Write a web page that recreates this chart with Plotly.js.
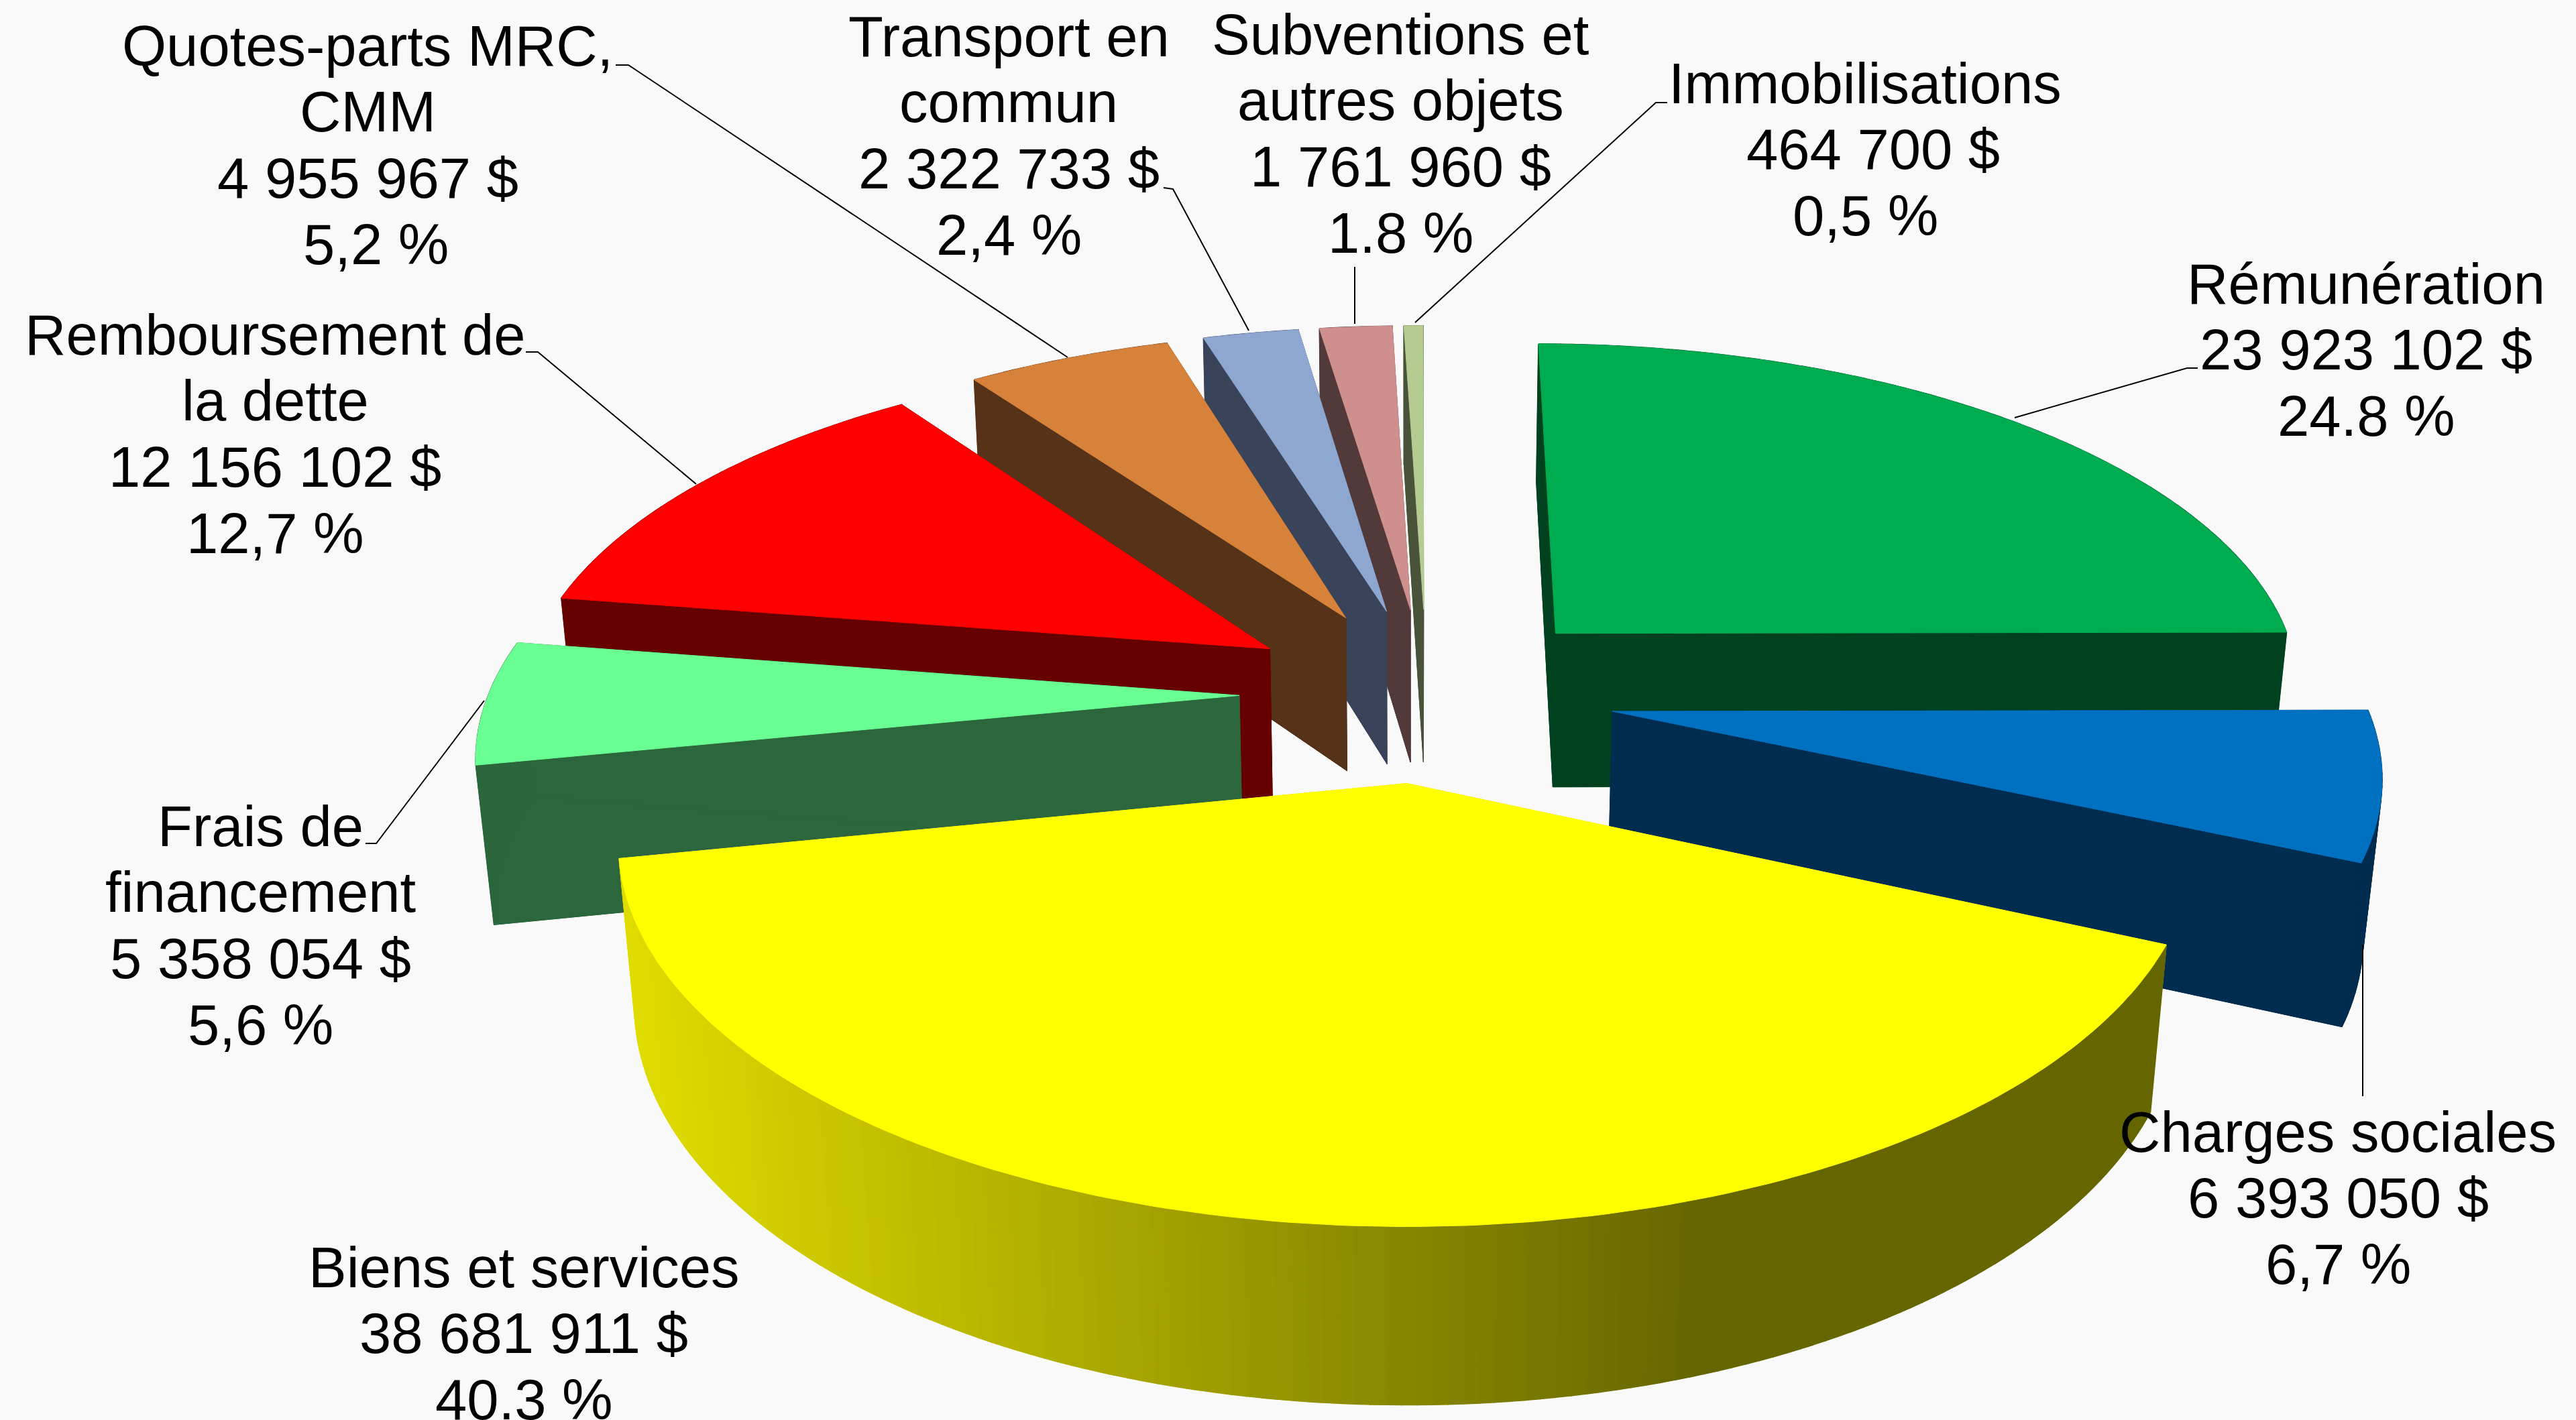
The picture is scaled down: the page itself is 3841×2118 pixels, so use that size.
<!DOCTYPE html>
<html>
<head>
<meta charset="utf-8">
<script src="https://cdn.plot.ly/plotly-3.0.1.min.js"></script>
<style>html,body{margin:0;padding:0;background:#f9f9f9}</style>
</head>
<body>
<div id="chart" style="width:3841px;height:2118px"></div>
<script>
// ---- data ----
const categoryLines = [
  ["Rémunération"],
  ["Charges sociales"],
  ["Biens et services"],
  ["Frais de", "financement"],
  ["Remboursement de", "la dette"],
  ["Quotes-parts MRC,", "CMM"],
  ["Transport en", "commun"],
  ["Subventions et", "autres objets"],
  ["Immobilisations"]
];
const amounts = [23923102, 6393050, 38681911, 5358054, 12156102, 4955967, 2322733, 1761960, 464700];
const amountLabels = ["23 923 102 $", "6 393 050 $", "38 681 911 $", "5 358 054 $", "12 156 102 $", "4 955 967 $", "2 322 733 $", "1 761 960 $", "464 700 $"];
const percentLabels = ["24.8 %", "6,7 %", "40.3 %", "5,6 %", "12,7 %", "5,2 %", "2,4 %", "1.8 %", "0,5 %"];

// ---- styling ----
const topColors  = ["#00AC50", "#0070C0", "#FFFF00", "#6AFF92", "#FF0000", "#D7823B", "#8EA7D0", "#CE8F8E", "#B4CC92"];
const sideColors = ["#00421F", "#002C4F", "#E0DC00", "#2C663C", "#660000", "#563218", "#39435A", "#533A3A", "#49533A"];
const drawOrder = [8, 7, 6, 5, 4, 3, 0, 1, 2];
const labelCenterX = [3528, 3486, 781, 388, 410, 548, 1504, 2088, 2781];
const labelFirstY  = [423, 1688, 1890, 1232, 499, 68, 54, 51, 124];
// small horizontal nudges of the amount and percent lines, as in the picture
const amountNudge  = [0, 0, 0, 0, 0, 0, 0, 0, 12];
const percentNudge = [0, 0, 0, 0, 0, 12, 0, 0, 0];
const lineStep = 98.8;
const fontSize = 85;
const leaders = [
  [[3277,549],[3261,549],[3004,623]],
  [[3523,1409],[3523,1635]],
  [],
  [[545,1258],[561,1258],[722,1045]],
  [[784,525],[802,525],[1038,722]],
  [[918,97],[937,97],[1592,533]],
  [[1735,280],[1749,282],[1862,493]],
  [[2020,398],[2020,483]],
  [[2486,153],[2469,153],[2110,481]]
];

// ---- perspective pie geometry ----
const VX = 2100, HY = -2500, NY = 13300, MU = 1.0867;
const U0 = 0.0076, W0 = 2.8325e-4, RU = 0.317, RW = 4.17e-5, EXPLODE = 0.25;
const START = 0.002, SHIFT_X = 1, SHIFT_Y = 4;
const total = amounts.reduce((a, b) => a + b, 0);

function topPoint(a, rho, mid) {
  const u = U0 + (rho * Math.sin(a) + EXPLODE * Math.sin(mid)) * RU;
  const w = W0 + (rho * Math.cos(a) + EXPLODE * Math.cos(mid)) * RW;
  const Y = 1 / w;
  return [VX + u * Y, HY + Y];
}
function lowPoint(p) {
  const Y = p[1] - HY, B = NY - p[1];
  const yb = (MU * Y * NY + HY * B) / (B + MU * Y);
  const xb = VX + (p[0] - VX) * (NY - yb) / B;
  return [xb, yb];
}
function poly(points, color, width) {
  const xs = points.map(p => p[0] + SHIFT_X), ys = points.map(p => p[1] + SHIFT_Y);
  xs.push(xs[0]); ys.push(ys[0]);
  return { type: "scatter", mode: "lines", x: xs, y: ys, fill: "toself", fillcolor: color,
           line: { color: color, width: width === undefined ? 1 : width }, hoverinfo: "skip", showlegend: false };
}
function yellowAt(x) {
  const f = Math.max(0, Math.min(1, (x - 930) / 1600));
  return "rgb(" + Math.round(224 - 122 * f) + "," + Math.round(220 - 118 * f) + ",0)";
}

let acc = 0;
const spans = amounts.map(v => {
  const s = START + acc / total * 2 * Math.PI; acc += v;
  return [s, START + acc / total * 2 * Math.PI];
});

const traces = [];
drawOrder.forEach(i => {
  const a0 = spans[i][0], a1 = spans[i][1], mid = (a0 + a1) / 2 - START;
  const n = Math.max(3, Math.ceil((a1 - a0) / (Math.PI / 180)));
  const rim = [];
  for (let k = 0; k <= n; k++) rim.push(topPoint(a0 + (a1 - a0) * k / n, 1, mid));
  const low = rim.map(lowPoint);
  const apex = topPoint(0, 0, mid), apexLow = lowPoint(apex);
  // cut faces and floor
  traces.push(poly([apex, rim[0], low[0], apexLow], sideColors[i]));
  traces.push(poly([apex, rim[n], low[n], apexLow], sideColors[i]));
  traces.push(poly([apexLow].concat(low), sideColors[i]));
  // outer wall, one small quad per step so that the silhouette stays filled
  for (let k = 0; k < n; k++) {
    const col = i === 2 ? yellowAt((rim[k][0] + rim[k + 1][0]) / 2) : sideColors[i];
    traces.push(poly([rim[k], rim[k + 1], low[k + 1], low[k]], col, 1.5));
  }
  // top face
  traces.push(poly([apex].concat(rim), topColors[i]));
});

// leader lines
leaders.forEach(seg => {
  if (!seg.length) return;
  traces.push({ type: "scatter", mode: "lines", x: seg.map(p => p[0]), y: seg.map(p => p[1]),
    line: { color: "#000000", width: 2 }, hoverinfo: "skip", showlegend: false });
});

// labels, one annotation per line to keep the exact line spacing
const annotations = [];
categoryLines.forEach((lines, i) => {
  const rows = lines.map(t => [t, 0]).concat([[amountLabels[i], amountNudge[i]], [percentLabels[i], percentNudge[i]]]);
  rows.forEach((row, j) => {
    annotations.push({ xref: "x", yref: "y", x: labelCenterX[i] + row[1], y: labelFirstY[i] + j * lineStep,
      text: row[0], showarrow: false, xanchor: "center", yanchor: "middle", borderpad: 0,
      font: { family: "Liberation Sans, Arial, sans-serif", size: fontSize, color: "#000000" } });
  });
});

Plotly.newPlot("chart", traces, {
  width: 3841, height: 2118, autosize: false,
  margin: { l: 0, r: 0, t: 0, b: 0, pad: 0 },
  paper_bgcolor: "#f9f9f9", plot_bgcolor: "#f9f9f9", showlegend: false,
  xaxis: { range: [0, 3841], visible: false, fixedrange: true },
  yaxis: { range: [2118, 0], visible: false, fixedrange: true },
  annotations: annotations
}, { displayModeBar: false, staticPlot: true });
</script>
</body>
</html>
